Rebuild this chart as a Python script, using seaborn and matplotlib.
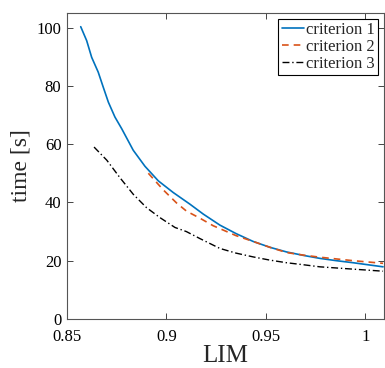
import pandas as pd
import seaborn as sns
import matplotlib.pyplot as plt

# values
lim_1 = [0.8569, 0.8599, 0.8624, 0.8657, 0.8682, 0.8708, 0.8741, 0.8775, 0.8833, 0.8892,
         0.8959, 0.9034, 0.9118, 0.9185, 0.9269, 0.9350, 0.9436, 0.9520, 0.9604, 0.9690,
         0.9771, 0.9855, 0.9939, 1.0089]
time_1 = [100.3, 95.5, 89.8, 84.7, 79.6, 74.4, 69.3, 65.3, 57.9, 52.4,
          47.4, 43.4, 39.4, 36.0, 32.2, 29.3, 26.6, 24.6, 23.0, 21.8,
          20.8, 20.0, 19.3, 17.9]

lim_2 = [0.8909, 0.8984, 0.9051, 0.9101, 0.9168, 0.9235, 0.9350, 0.9436, 0.9520, 0.9604,
         0.9690, 0.9771, 0.9855, 0.9939, 1.0089]
time_2 = [50.0, 44.3, 39.8, 37.0, 34.6, 32.0, 28.6, 26.6, 24.6, 22.8,
          21.9, 21.2, 20.6, 20.0, 19.1]

lim_3 = [0.8636, 0.8700, 0.8766, 0.8833, 0.8900, 0.8967, 0.9043, 0.9100, 0.9168, 0.9269,
         0.9350, 0.9436, 0.9520, 0.9604, 0.9690, 0.9771, 0.9855, 0.9939, 1.0089]
time_3 = [59.0, 54.5, 48.5, 42.8, 38.2, 34.8, 31.4, 30.0, 27.6, 24.2,
          22.6, 21.3, 20.2, 19.3, 18.6, 17.9, 17.5, 17.1, 16.4]

labels = ["criterion 1", "criterion 2", "criterion 3"]

df = pd.concat([
    pd.DataFrame({"LIM": lim_1, "time": time_1, "crit": labels[0]}),
    pd.DataFrame({"LIM": lim_2, "time": time_2, "crit": labels[1]}),
    pd.DataFrame({"LIM": lim_3, "time": time_3, "crit": labels[2]}),
])

sns.set_style("ticks")
plt.rcParams["font.family"] = ["Liberation Serif", "DejaVu Serif"]

fig = plt.figure(figsize=(3.85, 3.68), dpi=100)
ax = fig.add_axes([0.174, 0.1332, 0.823, 0.8315])

palette = {labels[0]: "#0072BD", labels[1]: "#D95319", labels[2]: "black"}
sns.lineplot(data=df, x="LIM", y="time", hue="crit", palette=palette,
             sort=False, estimator=None, ax=ax, linewidth=1.2)

styles = ["-", (0, (4, 3)), (0, (5, 2, 1, 2))]
for line, ls in zip(ax.get_lines()[:3], styles):
    line.set_linestyle(ls)
ax.get_lines()[2].set_linewidth(1.0)

ax.set_xlim(0.85, 1.0093)
ax.set_ylim(0, 105)
ax.set_xticks([0.85, 0.9, 0.95, 1.0])
ax.set_xticklabels(["0.85", "0.9", "0.95", "1"])
ax.set_yticks([0, 20, 40, 60, 80, 100])
ax.tick_params(direction="in", length=4, width=0.6, labelsize=12, colors="#262626",
               top=True, right=True)
ax.tick_params(axis="x", pad=7)
ax.tick_params(axis="y", pad=4)
for tl in ax.get_xticklabels() + ax.get_yticklabels():
    tl.set_color("black")
for sp in ax.spines.values():
    sp.set_visible(True)
    sp.set_color("#555555")
    sp.set_linewidth(0.8)

ax.set_xlabel("LIM", fontsize=18, labelpad=0)
ax.set_ylabel("time [s]", fontsize=17, labelpad=4)

handles = ax.get_lines()[:3]
leg = ax.legend(handles, labels, loc="upper right", fontsize=12, frameon=True,
                fancybox=False, edgecolor="black", framealpha=1, handlelength=1.35,
                handletextpad=0.1, borderpad=0.2, labelspacing=0.05,
                borderaxespad=0.35)
leg.get_frame().set_linewidth(0.8)

fig.savefig("out.png", dpi=100)
